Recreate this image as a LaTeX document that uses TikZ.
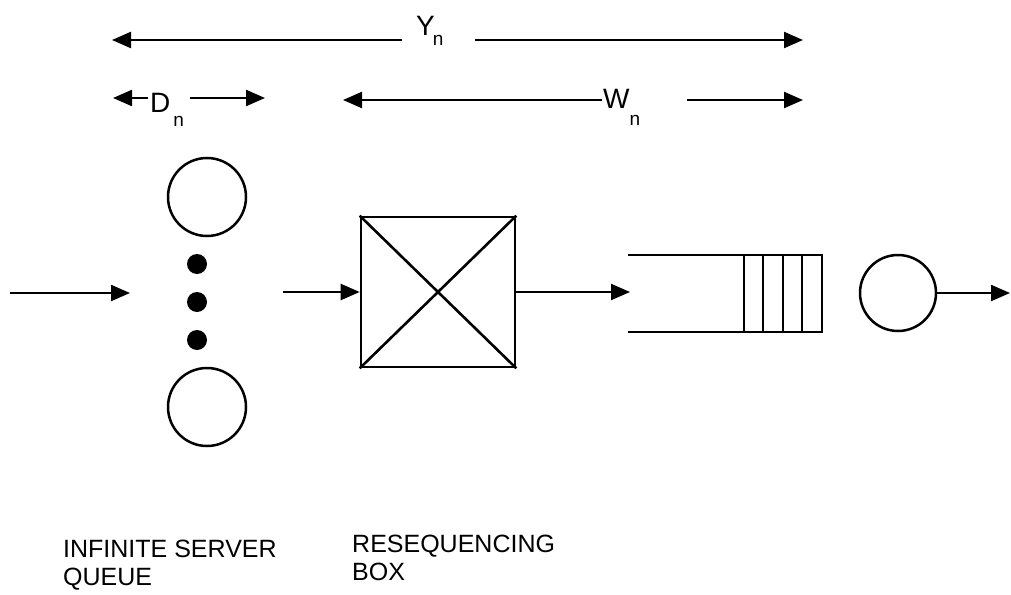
\documentclass[tikz,border=0pt]{standalone}
\usepackage{fontspec}
\setmainfont{Liberation Sans}
\usetikzlibrary{arrows.meta}
\begin{document}
\begin{tikzpicture}[x=1pt,y=-1pt,
  arr/.style={line width=2.2pt,-{Triangle[length=19pt,width=16pt]}},
  thick line/.style={line width=2.6pt},
  srvc/.style={circle,draw,line width=2.5pt,minimum size=78pt,inner sep=0},
  dotc/.style={circle,fill,minimum size=20pt,inner sep=0},
  lab/.style={font=\fontsize{28}{30}\selectfont,inner sep=0,anchor=base west},
  captxt/.style={font=\fontsize{25}{28}\selectfont,inner sep=0,anchor=base west}]
\useasboundingbox (0,0) rectangle (1011,594);
% dimension labels
\node[lab] (Y) at (416,36) {Y\kern-2pt\raisebox{-10pt}{\fontsize{19}{20}\selectfont n}};
\node[lab] (D) at (150,112) {D\kern3pt\raisebox{-14pt}{\fontsize{19}{20}\selectfont n}};
\node[lab] (W) at (603,108) {W\kern0pt\raisebox{-17pt}{\fontsize{19}{20}\selectfont n}};
\coordinate (yl) at (402,40); \coordinate (yle) at (112,40);
\coordinate (yr) at (475,40); \coordinate (yre) at (803,40);
\coordinate (dl) at (148,98); \coordinate (dle) at (113,98);
\coordinate (dr) at (190,98); \coordinate (dre) at (265,98);
\coordinate (wl) at (602,100); \coordinate (wle) at (343,100);
\coordinate (wr) at (687,100); \coordinate (wre) at (803,100);
\draw[arr] (yl) -- (yle);
\draw[arr] (yr) -- (yre);
\draw[arr] (dl) -- (dle);
\draw[arr] (dr) -- (dre);
\draw[arr] (wl) -- (wle);
\draw[arr] (wr) -- (wre);
% infinite server queue
\node[srvc] (s1) at (207,197) {};
\node[srvc] (s2) at (207,407) {};
\node[dotc] (d1) at (197,264) {};
\node[dotc] (d2) at (197,302) {};
\node[dotc] (d3) at (197,340) {};
\coordinate (in0) at (10,293); \coordinate (in1) at (130,293);
\draw[arr] (in0) -- (in1);
% resequencing box
\node[draw,thick line,minimum width=154pt,minimum height=150pt,inner sep=0] (box) at (438,292) {};
\draw[thick line] (box.north west) -- (box.south east);
\draw[thick line] (box.south west) -- (box.north east);
\coordinate (b0) at (283,292);
\draw[arr] (b0) -- (box.west);
\coordinate (qin) at (630,292);
\draw[arr] (box.east) -- (qin);
% FIFO queue
\coordinate (qtl) at (628,255); \coordinate (qtr) at (822,255);
\coordinate (qbl) at (628,332); \coordinate (qbr) at (822,332);
\draw[thick line] (qtl) -- (qtr) -- (qbr) -- (qbl);
\foreach \x in {744,763,783,802} \draw[thick line] (\x,255) -- (\x,332);
% single server
\node[srvc,minimum size=76pt] (srv) at (898,293) {};
\coordinate (out) at (1010,293);
\draw[arr] (srv.east) -- (out);
% captions
\node[captxt] (c1) at (63,557) {INFINITE SERVER};
\node[captxt] (c2) at (63,585) {QUEUE};
\node[captxt] (c3) at (352,552) {RESEQUENCING};
\node[captxt] (c4) at (352,580) {BOX};
\end{tikzpicture}
\end{document}
